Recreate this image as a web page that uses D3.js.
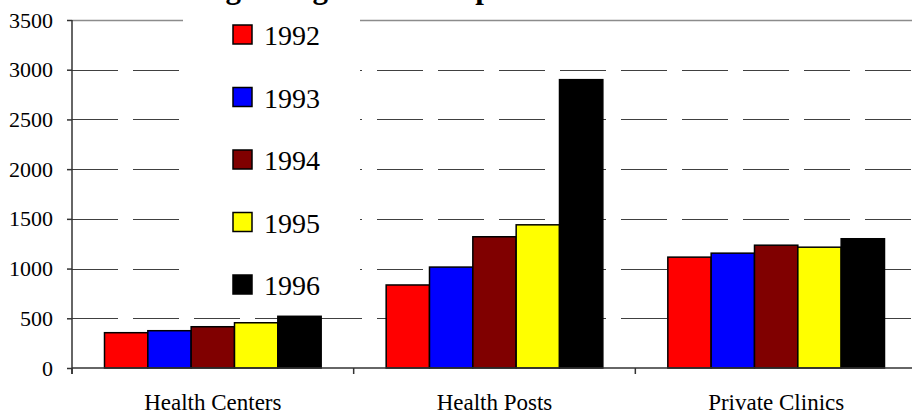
<!DOCTYPE html>
<html>
<head>
<meta charset="utf-8">
<script src="https://cdn.jsdelivr.net/npm/d3@7"></script>
<style>
  body { margin: 0; background: #fff; }
  svg { display: block; }
  svg text { font-family: "Liberation Serif", "Times New Roman", serif; fill: #000; }
</style>
</head>
<body>
<svg width="912" height="413"></svg>
<script>
const svg = d3.select("svg");

// data
const categories = ["Health Centers", "Health Posts", "Private Clinics"];
const years = ["1992", "1993", "1994", "1995", "1996"];
const colors = ["#ff0000", "#0000ff", "#800000", "#ffff00", "#000000"];
const values1992 = [355, 835, 1115];
const values1993 = [375, 1015, 1155];
const values1994 = [415, 1320, 1235];
const values1995 = [455, 1440, 1215];
const values1996 = [520, 2900, 1300];
const series = [values1992, values1993, values1994, values1995, values1996];
const yTicks = [0, 500, 1000, 1500, 2000, 2500, 3000, 3500];

const margin = { left: 72, top: 20, bottom: 45 };
const height = 413;

const y = d3.scaleLinear().domain([0, 3500]).range([height - margin.bottom, margin.top]);
const x = d3.scaleBand().domain(categories).range([margin.left, 917]);
const xs = d3.scaleBand().domain(years)
    .range([32.5, x.bandwidth() - 32.5]);

// gridlines
const grid = svg.append("g");
grid.selectAll("line")
    .data(yTicks.filter(d => d > 0))
    .enter().append("line")
      .attr("x1", margin.left).attr("x2", 912)
      .attr("y1", d => Math.round(y(d)) + 0.5).attr("y2", d => Math.round(y(d)) + 0.5)
      .attr("stroke", d => d === 3500 ? "#8c8c8c" : "#404040")
      .attr("stroke-width", d => d === 3500 ? 1.5 : 1)
      .attr("stroke-dasharray", d => d === 3500 ? null : "46,15");

// legend background hides the grid behind it
const legend = svg.append("g");
legend.append("rect")
    .attr("x", 183).attr("y", 0).attr("width", 177).attr("height", 300)
    .attr("fill", "#fff");

// title (mostly cut off at the top edge, only descenders show)
svg.append("text")
    .attr("x", 147).attr("y", -2)
    .attr("font-weight", "bold").attr("font-size", 31)
    .text("Average Usage of all Outpatient Facilities");

// bars
const groups = svg.append("g").selectAll("g")
    .data(categories)
    .enter().append("g")
      .attr("transform", d => `translate(${x(d)},0)`);

groups.selectAll("rect")
    .data((d, i) => years.map((yr, j) => ({ yr, v: series[j][i], c: colors[j] })))
    .enter().append("rect")
      .attr("x", d => xs(d.yr))
      .attr("y", d => y(d.v))
      .attr("width", xs.bandwidth())
      .attr("height", d => y(0) - y(d.v))
      .attr("fill", d => d.c)
      .attr("stroke", "#000")
      .attr("stroke-width", 1.5);

// y axis
const yAxis = svg.append("g")
    .attr("transform", `translate(${margin.left},0)`)
    .call(d3.axisLeft(y).tickValues(yTicks).tickFormat(d3.format("d"))
        .tickSize(5).tickPadding(14).tickSizeOuter(0));
yAxis.attr("font-family", null).attr("font-size", 22);
yAxis.select(".domain").attr("stroke", "#333").attr("stroke-width", 1.5)
    .attr("d", `M0,${margin.top}V${y(0) + 6}`);
yAxis.selectAll(".tick line").attr("stroke", "#333").attr("stroke-width", 1.5);
yAxis.selectAll(".tick text")
    .style("font-family", "'Liberation Serif', serif")
    .style("font-size", "22px").attr("fill", "#000");

// x axis
const xAxis = svg.append("g")
    .attr("transform", `translate(0,${y(0)})`);
xAxis.append("line")
    .attr("x1", margin.left).attr("x2", 912)
    .attr("stroke", "#333").attr("stroke-width", 1.5);
xAxis.selectAll(".sep")
    .data(categories)
    .enter().append("line")
      .attr("class", "sep")
      .attr("x1", d => x(d)).attr("x2", d => x(d))
      .attr("y1", 0).attr("y2", 6)
      .attr("stroke", "#333").attr("stroke-width", 1.5);
xAxis.selectAll("text")
    .data(categories)
    .enter().append("text")
      .attr("x", d => x(d) + x.bandwidth() / 2)
      .attr("y", 42)
      .attr("text-anchor", "middle")
      .attr("font-size", 23)
      .text(d => d);

// legend entries
const items = legend.selectAll("g.item")
    .data(years)
    .enter().append("g")
      .attr("class", "item")
      .attr("transform", (d, i) => `translate(233,${25 + i * 62.5})`);
items.append("rect")
    .attr("width", 19).attr("height", 19)
    .attr("fill", (d, i) => colors[i])
    .attr("stroke", "#000").attr("stroke-width", 1.5);
items.append("text")
    .attr("x", 31).attr("y", 20)
    .attr("font-size", 28)
    .text(d => d);
</script>
</body>
</html>
